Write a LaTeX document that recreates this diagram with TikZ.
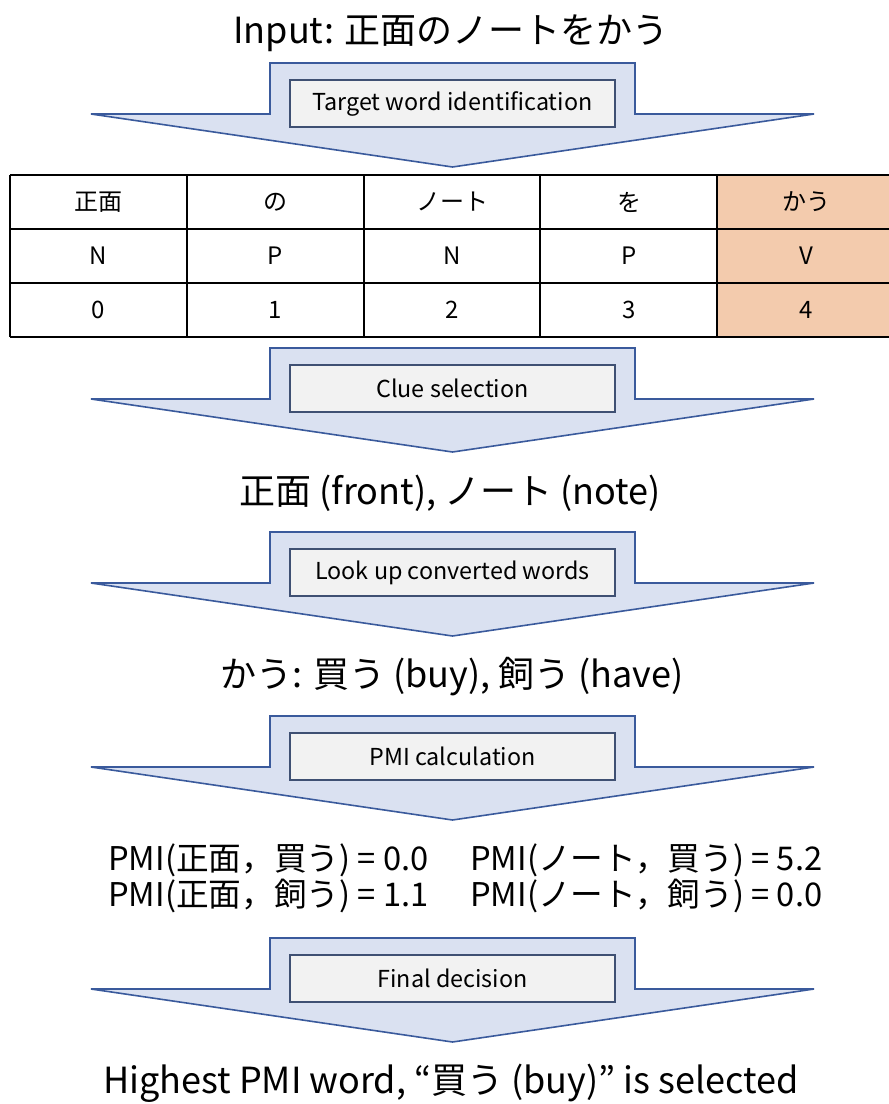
\documentclass[tikz,border=0pt]{standalone}
\usepackage{fontspec}
\setmainfont{Noto Sans CJK JP}
\definecolor{arrfill}{HTML}{DAE1F1}
\definecolor{arrline}{HTML}{3A5A9C}
\definecolor{boxfill}{HTML}{F2F2F2}
\definecolor{boxline}{HTML}{3F5073}
\definecolor{peach}{HTML}{F3CBAD}
\tikzset{
  bigarrow/.style={fill=arrfill, draw=arrline, line width=1.2pt, line join=miter},
  stepbox/.style={draw=boxline, fill=boxfill, line width=1pt, minimum width=325*0.75pt, minimum height=47*0.75pt, inner sep=0pt, font=\fontsize{17.5}{20}\selectfont},
  bigtext/.style={font=\fontsize{27}{32}\selectfont, inner sep=0pt},
  pmitext/.style={font=\fontsize{24.5}{29}\selectfont, inner sep=0pt, anchor=west},
  celltext/.style={inner sep=0pt, font=\fontsize{18}{21}\selectfont},
  grid/.style={draw=black, line width=1.3pt},
}
\newcommand{\flowarrow}[3]{%
  \draw[bigarrow] (270,#1) -- (635,#1) -- (635,#1+51) -- (814,#1+51) -- (452.5,#1+104) -- (91,#1+51) -- (270,#1+51) -- cycle;
  \node[stepbox] (#2) at (452.5,#1+40.5) {#3};
}
\begin{document}
\begin{tikzpicture}[x=0.75pt,y=-0.75pt]
\useasboundingbox (0,0) rectangle (889,1104);
\node[bigtext] (title) at (451,33) {Input: 正面のノートをかう};
\flowarrow{63}{s1}{Target word identification}
% table
\fill[peach] (717,175) rectangle (889,337);
\foreach \yy in {175,229,283,337} \draw[grid] (10,\yy) -- (889,\yy);
\foreach \xx in {10,187,364,540,717} \draw[grid] (\xx,175) -- (\xx,337);
\foreach \t [count=\k from 0] in {正面,の,ノート,を,かう}
  \node[celltext] (w\k) at ({98.5+176.9*\k},202) {\t};
\foreach \t [count=\k from 0] in {N,P,N,P,V}
  \node[celltext] (p\k) at ({98.5+176.9*\k},256) {\t};
\foreach \t [count=\k from 0] in {0,1,2,3,4}
  \node[celltext] (i\k) at ({98.5+176.9*\k},310) {\t};
\flowarrow{348}{s2}{Clue selection}
\node[bigtext] (clues) at (450,493) {正面 (front), ノート (note)};
\flowarrow{532}{s3}{Look up converted words}
\node[bigtext] (cands) at (452,677) {かう: 買う (buy), 飼う (have)};
\flowarrow{716}{s4}{PMI calculation}
\node[pmitext] (pa) at (108,860) {PMI(正面，買う) = 0.0};
\node[pmitext] (pb) at (470,860) {PMI(ノート，買う) = 5.2};
\node[pmitext] (pc) at (108,896) {PMI(正面，飼う) = 1.1};
\node[pmitext] (pd) at (470,896) {PMI(ノート，飼う) = 0.0};
\flowarrow{938}{s5}{Final decision}
\node[bigtext] (result) at (451,1083) {Highest PMI word, “買う (buy)” is selected};
\end{tikzpicture}
\end{document}
